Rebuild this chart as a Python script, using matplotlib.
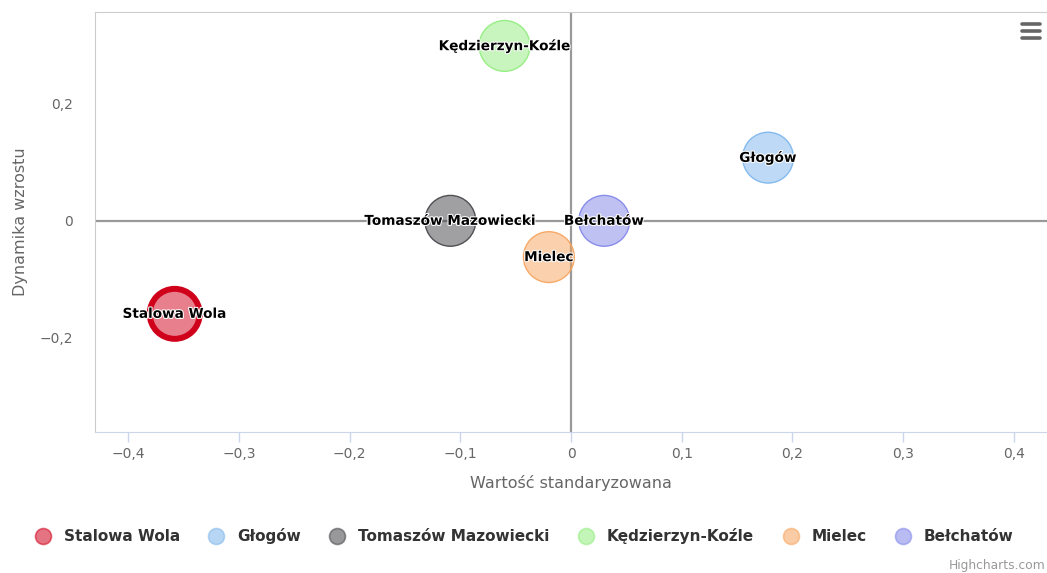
import numpy as np
import matplotlib.pyplot as plt
import matplotlib.patheffects as pe
from matplotlib.lines import Line2D
from matplotlib.ticker import FuncFormatter

# dane
miasta = ["Stalowa Wola", "Głogów", "Tomaszów Mazowiecki", "Kędzierzyn-Koźle", "Mielec", "Bełchatów"]
wartosc = [-0.358, 0.178, -0.109, -0.060, -0.020, 0.030]
dynamika = [-0.159, 0.108, 0.0, 0.299, -0.062, 0.0]
kolory = ["#d0021b", "#7cb5ec", "#434348", "#90ed7d", "#f7a35c", "#8085e9"]
x_ticks = [-0.4, -0.3, -0.2, -0.1, 0, 0.1, 0.2, 0.3, 0.4]
y_ticks = [-0.2, 0, 0.2]

plt.rcParams['font.family'] = ['DejaVu Sans']

fig = plt.figure(figsize=(10.47, 5.73), dpi=100)
ax = fig.add_axes([95 / 1047, 1 - 432 / 573, 952 / 1047, 420 / 573])

ax.set_xlim(-0.430, 0.430)
ax.set_ylim(-0.361, 0.357)

# linie zerowe
ax.axvline(0, color="#999999", lw=1.6, zorder=1)
ax.axhline(0, color="#999999", lw=1.6, zorder=1)

for i, m in enumerate(miasta):
    if i == 0:
        ax.scatter(wartosc[i], dynamika[i], s=1296, color=kolory[i], alpha=0.5,
                   edgecolors="none", zorder=3)
        ax.scatter(wartosc[i], dynamika[i], s=1296, facecolors="none",
                   edgecolors=kolory[i], linewidths=4.3, zorder=3)
    else:
        ax.scatter(wartosc[i], dynamika[i], s=1340, color=kolory[i], alpha=0.5,
                   edgecolors="none", zorder=3)
        ax.scatter(wartosc[i], dynamika[i], s=1340, facecolors="none",
                   edgecolors=kolory[i], linewidths=1, alpha=0.9, zorder=3)
    ax.text(wartosc[i], dynamika[i], m, ha="center", va="center", fontsize=9.8,
            fontweight="bold", color="black", zorder=5,
            path_effects=[pe.withStroke(linewidth=1.5, foreground="white")])

def fmt(v, pos):
    if abs(v) < 1e-9:
        return "0"
    s = "%.1f" % v
    return s.replace("-", "\u2212").replace(".", ",")

ax.set_xticks(x_ticks)
ax.set_yticks(y_ticks)
ax.xaxis.set_major_formatter(FuncFormatter(fmt))
ax.yaxis.set_major_formatter(FuncFormatter(fmt))
ax.tick_params(axis="x", colors="#ccd6eb", length=7, width=1, labelcolor="#666666",
               labelsize=10, pad=4)
ax.tick_params(axis="y", length=0, labelcolor="#666666", labelsize=10, pad=16)

ax.spines["right"].set_visible(False)
ax.spines["left"].set_color("#cccccc")
ax.spines["top"].set_color("#cccccc")
ax.spines["bottom"].set_color("#ccd6eb")

ax.set_xlabel("Wartość standaryzowana", color="#666666", fontsize=11.5, labelpad=10)
ax.set_ylabel("Dynamika wzrostu", color="#666666", fontsize=11.5, labelpad=8)

# legenda
uchwyty = [Line2D([], [], marker="o", ls="none", markersize=11.5,
                  markerfacecolor=c, markeredgecolor=c, alpha=0.55, markeredgewidth=1.2)
           for c in kolory]
leg = fig.legend(uchwyty, miasta, loc="center", bbox_to_anchor=(522 / 1047, 1 - 536 / 573),
                 ncol=6, frameon=False, handletextpad=0.55, columnspacing=1.6,
                 handlelength=1.6, prop={"weight": "bold", "size": 11})
for t in leg.get_texts():
    t.set_color("#333333")

fig.text(1045 / 1047, 1 - 565 / 573, "Highcharts.com", ha="right", va="center",
         fontsize=8.8, color="#999999")

# ikona menu
for yy in [24, 31, 38]:
    fig.add_artist(Line2D([1022 / 1047, 1040 / 1047], [1 - yy / 573] * 2,
                          color="#666666", lw=2.6, solid_capstyle="round"))

fig.savefig("out.png", dpi=100)
